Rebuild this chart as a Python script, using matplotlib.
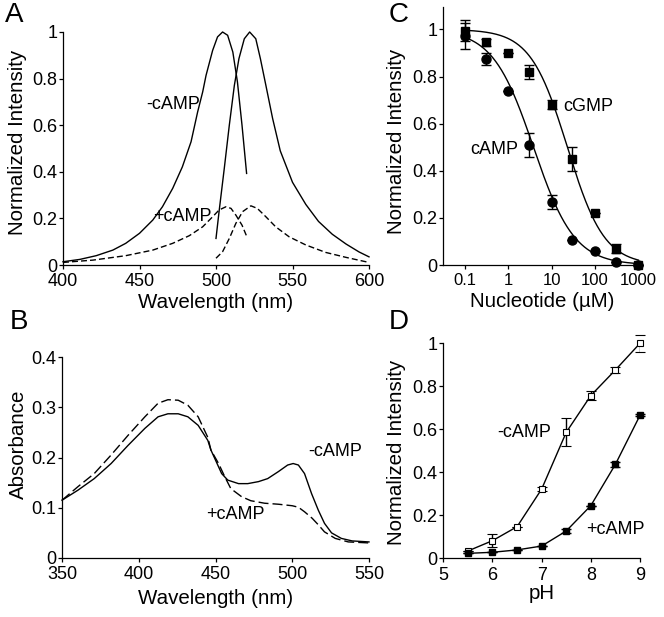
import numpy as np
import matplotlib
matplotlib.use("Agg")
import matplotlib.pyplot as plt
from matplotlib.ticker import FuncFormatter, FixedLocator

plt.rcParams['font.family'] = ['Liberation Sans', 'DejaVu Sans']
plt.rcParams['font.size'] = 13
plt.rcParams['axes.labelsize'] = 14.8
plt.rcParams['axes.linewidth'] = 0.9
plt.rcParams['xtick.major.width'] = 0.9
plt.rcParams['ytick.major.width'] = 0.9
plt.rcParams['xtick.major.size'] = 3
plt.rcParams['ytick.major.size'] = 3
plt.rcParams['xtick.direction'] = 'out'
plt.rcParams['ytick.direction'] = 'out'

# ---------------- Panel A: excitation / emission spectra ----------------
a_exc_wl = [400, 411, 421.7, 432.6, 441, 450, 458.7, 465, 471.7, 478, 483.7, 488, 491.3,
            493.5, 497.8, 501, 504.3, 507.6, 511, 514, 517, 520]
a_exc_minus = [0.014, 0.024, 0.04, 0.064, 0.093, 0.136, 0.193, 0.25, 0.329, 0.421, 0.529, 0.657, 0.743,
               0.814, 0.921, 0.979, 1.0, 0.986, 0.914, 0.786, 0.60, 0.393]
a_exc_wl_p = [400, 419.6, 441, 458.7, 471.7, 482.6, 491.3, 497.8, 502, 506.5, 509.8, 513, 517, 520]
a_exc_plus = [0.011, 0.021, 0.04, 0.064, 0.093, 0.126, 0.164, 0.207, 0.236, 0.25, 0.243, 0.214, 0.171, 0.124]
a_em_wl = [500, 502, 505.4, 508.7, 512, 515, 518.5, 522, 526, 529, 532.6, 537, 542, 550, 558.7,
           567, 576, 585, 593.5, 600]
a_em_minus = [0.114, 0.229, 0.414, 0.60, 0.771, 0.886, 0.971, 1.0, 0.971, 0.886, 0.771, 0.629, 0.49, 0.355,
              0.26, 0.187, 0.132, 0.09, 0.056, 0.035]
a_em_wl_p = [500, 504.3, 508.7, 513, 517.4, 522.8, 527, 532.6, 539, 547.8, 558.7, 571.7, 584.8, 600]
a_em_plus = [0.029, 0.057, 0.114, 0.179, 0.229, 0.254, 0.243, 0.207, 0.164, 0.121, 0.086, 0.054, 0.033, 0.011]

# ---------------- Panel B: absorbance ----------------
b_wl_minus = [350, 360.4, 371, 382, 393, 404, 412.6, 419, 425.7, 432, 438.7, 445, 447, 454, 458, 465,
              471, 478, 484, 491, 497, 500.6, 504, 508, 512.6, 517, 521, 525.6, 532, 539, 550]
b_minus = [0.115, 0.135, 0.158, 0.188, 0.224, 0.258, 0.281, 0.287, 0.287, 0.281, 0.264, 0.234, 0.215, 0.168,
           0.155, 0.148, 0.148, 0.152, 0.158, 0.172, 0.185, 0.188, 0.185, 0.168, 0.128, 0.095, 0.069, 0.05,
           0.039, 0.034, 0.032]
b_wl_plus = [350, 360.4, 371, 382, 393, 404, 412.6, 419, 425.7, 432, 438.7, 445, 447, 452, 456, 460, 467,
             473, 482, 491, 500, 504, 508, 513, 517, 521, 528, 536.5, 550]
b_plus = [0.115, 0.142, 0.168, 0.205, 0.244, 0.281, 0.308, 0.315, 0.314, 0.304, 0.281, 0.24, 0.215, 0.188,
          0.162, 0.138, 0.122, 0.114, 0.109, 0.107, 0.104, 0.101, 0.092, 0.079, 0.066, 0.052, 0.039, 0.032,
          0.030]

# ---------------- Panel C: dose response ----------------
c_conc = [0.1, 0.3, 1, 3, 10, 30, 100, 300, 1000]
c_cgmp = [0.994, 0.945, 0.90, 0.82, 0.68, 0.45, 0.22, 0.07, 0.0]
c_cgmp_err = [0.045, 0.015, 0.0, 0.03, 0.02, 0.05, 0.0, 0.02, 0.0]
c_camp = [0.97, 0.874, 0.74, 0.51, 0.266, 0.106, 0.06, 0.014, 0.0]
c_camp_err = [0.055, 0.025, 0.0, 0.05, 0.03, 0.0, 0.0, 0.0, 0.0]
# Hill fit parameters (IC50 in uM, Hill coefficient)
camp_ic50, camp_hill = 3.8, 0.92
cgmp_ic50, cgmp_hill = 23.0, 1.02

# ---------------- Panel D: pH dependence ----------------
d_ph = [5.5, 6, 6.5, 7, 7.5, 8, 8.5, 9]
d_minus = [0.034, 0.082, 0.147, 0.322, 0.586, 0.757, 0.876, 1.0]
d_minus_err = [0.0, 0.03, 0.0, 0.01, 0.065, 0.02, 0.012, 0.04]
d_plus = [0.023, 0.028, 0.039, 0.057, 0.127, 0.245, 0.437, 0.665]
d_plus_err = [0.0, 0.0, 0.0, 0.0, 0.01, 0.0, 0.012, 0.005]

W, H = 664, 617
fig = plt.figure(figsize=(W / 100, H / 100), dpi=100)


def rect(l, r, t, b):
    return [l / W, 1 - b / H, (r - l) / W, (b - t) / H]


fmt = FuncFormatter(lambda v, p: ('%g' % round(v, 6)))


def style(ax):
    for s in ('top', 'right'):
        ax.spines[s].set_visible(False)
    ax.yaxis.set_major_formatter(fmt)
    ax.tick_params(axis='x', pad=3)
    ax.tick_params(axis='y', pad=1)


dashA = (0, (4.3, 2.2))
dashB = (0, (7.2, 2.9))

# Panel A
axA = fig.add_axes(rect(63, 369, 32, 265))
style(axA)
axA.plot(a_exc_wl, a_exc_minus, color='black', lw=1.0)
axA.plot(a_em_wl, a_em_minus, color='black', lw=1.0)
axA.plot(a_exc_wl_p, a_exc_plus, color='black', lw=1.0, linestyle=dashA)
axA.plot(a_em_wl_p, a_em_plus, color='black', lw=1.0, linestyle=dashA)
axA.set_xlim(400, 600)
axA.set_ylim(0, 1)
axA.set_xticks([400, 450, 500, 550, 600])
axA.set_yticks([0, 0.2, 0.4, 0.6, 0.8, 1.0])
axA.set_xlabel('Wavelength (nm)')
axA.set_ylabel('Normalized Intensity')
axA.xaxis.set_label_coords(0.5, -0.119)
axA.yaxis.set_label_coords((27.4 - 63) / 306, 0.526)
axA.text(489.5, 0.687, '-cAMP', ha='right', va='center')
axA.text(497.2, 0.207, '+cAMP', ha='right', va='center')

# Panel B
axB = fig.add_axes(rect(62, 369, 357, 558))
style(axB)
axB.plot(b_wl_minus, b_minus, color='black', lw=1.0)
axB.plot(b_wl_plus, b_plus, color='black', lw=1.0, linestyle=dashB)
axB.set_xlim(350, 550)
axB.set_ylim(0, 0.4)
axB.set_xticks([350, 400, 450, 500, 550])
axB.set_yticks([0, 0.1, 0.2, 0.3, 0.4])
axB.set_xlabel('Wavelength (nm)')
axB.set_ylabel('Absorbance')
axB.xaxis.set_label_coords(0.5, -0.154)
axB.yaxis.set_label_coords((27.5 - 62) / 307, 0.567)
axB.text(510.3, 0.2115, '-cAMP', ha='left', va='center')
axB.text(444, 0.0856, '+cAMP', ha='left', va='center')

# Panel C
axC = fig.add_axes(rect(442.7, 641, 7, 265))
style(axC)
axC.set_xscale('log')
xfit = np.logspace(-1, 3, 300)
axC.plot(xfit, 1 / (1 + (xfit / camp_ic50) ** camp_hill), color='black', lw=1.0)
axC.plot(xfit, 1 / (1 + (xfit / cgmp_ic50) ** cgmp_hill), color='black', lw=1.0)
axC.errorbar(c_conc, c_cgmp, yerr=c_cgmp_err, fmt='s', color='black', ms=6,
             capsize=3.5, elinewidth=1.0, capthick=1.0)
axC.errorbar(c_conc, c_camp, yerr=c_camp_err, fmt='o', color='black', ms=6.5,
             capsize=3.5, elinewidth=1.0, capthick=1.0)
axC.set_xlim(0.0305, 1150)
axC.set_ylim(0, 1.095)
axC.xaxis.set_major_locator(FixedLocator([0.1, 1, 10, 100, 1000]))
axC.xaxis.set_minor_locator(FixedLocator([]))
axC.xaxis.set_major_formatter(FuncFormatter(lambda v, p: '%g' % v))
axC.tick_params(axis='x', labelsize=12)
axC.set_yticks([0, 0.2, 0.4, 0.6, 0.8, 1.0])
axC.set_xlabel('Nucleotide (µM)')
axC.set_ylabel('Normalized Intensity')
axC.xaxis.set_label_coords(0.5, -0.105)
axC.yaxis.set_label_coords((406 - 442.7) / 198.3, 0.48)
axC.text(18.3, 0.674, 'cGMP', ha='left', va='center')
axC.text(1.67, 0.49, 'cAMP', ha='right', va='center')

# Panel D
axD = fig.add_axes(rect(443.3, 640, 343.3, 558.3))
style(axD)
axD.errorbar(d_ph, d_minus, yerr=d_minus_err, fmt='-s', color='black', ms=4.5,
             mfc='white', mec='black', mew=0.8, lw=1.0, capsize=3.5,
             elinewidth=1.0, capthick=1.0)
axD.errorbar(d_ph, d_plus, yerr=d_plus_err, fmt='-s', color='black', ms=3.8,
             lw=1.0, capsize=3.5, elinewidth=1.0, capthick=1.0)
axD.set_xlim(5, 9)
axD.set_ylim(0, 1.0)
axD.set_xticks([5, 6, 7, 8, 9])
axD.set_yticks([0, 0.2, 0.4, 0.6, 0.8, 1.0])
axD.set_xlabel('pH')
axD.set_ylabel('Normalized Intensity')
axD.xaxis.set_label_coords(0.5, -0.12)
axD.yaxis.set_label_coords((406 - 443.3) / 196.7, 0.493)
axD.text(6.09, 0.584, '-cAMP', ha='left', va='center')
axD.text(7.91, 0.132, '+cAMP', ha='left', va='center')
for a in (axA, axB, axC, axD):
    for line in a.lines:
        line.set_clip_on(False)

# Panel letters
for letter, (x, y) in {'A': (14.5, 15), 'B': (19, 322), 'C': (399, 15), 'D': (399, 322)}.items():
    fig.text(x / W, 1 - y / H, letter, fontsize=20, ha='center', va='center')

fig.savefig('out.png', dpi=100)
